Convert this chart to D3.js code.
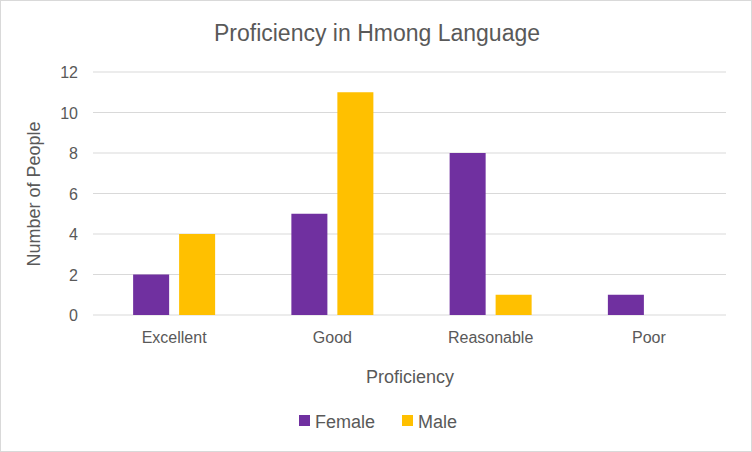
<!DOCTYPE html>
<html><head><meta charset="utf-8">
<script src="https://cdn.jsdelivr.net/npm/d3@7"></script>
<style>body{margin:0;background:#fff}svg{font-family:Arial,"Liberation Sans",sans-serif}</style>
</head><body>
<script>
const categories = ["Excellent","Good","Reasonable","Poor"];
const seriesNames = ["Female","Male"];
const female = [2,5,8,1];
const male = [4,11,1,0];
const yTicks = [0,2,4,6,8,10,12];
const colors = ["#7030A0","#FFC000"];

const W=752,H=452;
const svg=d3.select("body").append("svg").attr("width",W).attr("height",H);
svg.append("rect").attr("x",0.5).attr("y",0.5).attr("width",W-1).attr("height",H-1).attr("fill","#fff").attr("stroke","#d9d9d9");
const x0=d3.scaleBand().domain(categories).range([95,728]);
const y=d3.scaleLinear().domain([0,12]).range([315,72]);
const x1=d3.scaleBand().domain(seriesNames).range([0,82]).paddingInner(0.217);
const g=svg.append("g");
yTicks.forEach(t=>{
  g.append("line").attr("x1",93).attr("x2",726).attr("y1",y(t)).attr("y2",y(t)).attr("stroke","#d9d9d9");
  g.append("text").attr("x",78).attr("y",y(t)+6).attr("text-anchor","end").attr("font-size",16).attr("fill","#595959").text(t);
});
const data=categories.map((c,i)=>({c,v:[female[i],male[i]]}));
data.forEach(d=>{
  const cx=x0(d.c)+x0.bandwidth()/2-41;
  d.v.forEach((v,j)=>{
    if(v<=0)return;
    g.append("rect").attr("x",cx+x1(seriesNames[j])).attr("y",y(v)).attr("width",x1.bandwidth()).attr("height",y(0)-y(v)).attr("fill",colors[j]);
  });
  g.append("text").attr("x",x0(d.c)+x0.bandwidth()/2).attr("y",343).attr("text-anchor","middle").attr("font-size",16).attr("fill","#595959").text(d.c);
});
svg.append("text").attr("x",W/2+1).attr("y",41).attr("text-anchor","middle").attr("font-size",23).attr("fill","#595959").text("Proficiency in Hmong Language");
svg.append("text").attr("x",410).attr("y",383).attr("text-anchor","middle").attr("font-size",18).attr("fill","#595959").text("Proficiency");
svg.append("text").attr("transform","translate(40,194) rotate(-90)").attr("text-anchor","middle").attr("font-size",18).attr("fill","#595959").text("Number of People");
const lg=[{n:"Female",x:299},{n:"Male",x:402}];
lg.forEach((l,i)=>{
  svg.append("rect").attr("x",l.x).attr("y",415).attr("width",11).attr("height",11).attr("fill",colors[i]);
  svg.append("text").attr("x",l.x+16).attr("y",428).attr("font-size",18).attr("fill","#595959").text(l.n);
});
</script>
</body></html>
